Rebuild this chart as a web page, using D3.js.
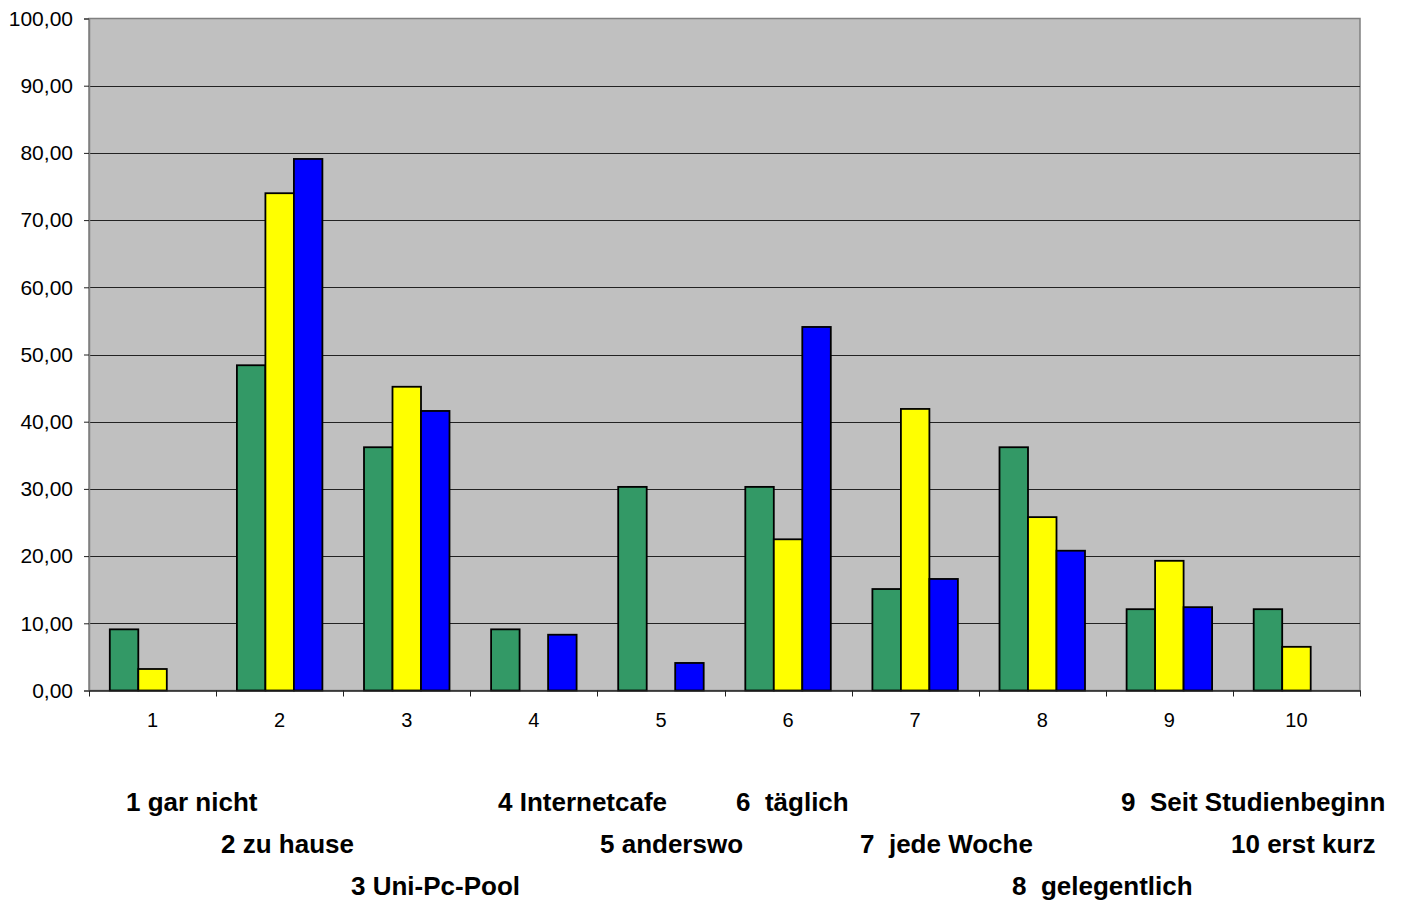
<!DOCTYPE html>
<html>
<head>
<meta charset="utf-8">
<script src="https://cdn.jsdelivr.net/npm/d3@7"></script>
<style>
  body { margin: 0; background: #fff; }
  text { font-family: Arial, "Liberation Sans", sans-serif; }
</style>
</head>
<body>
<svg id="canvas" width="1410" height="903"></svg>
<script>
// categories and the three series (null = no bar)
var categories = ['1', '2', '3', '4', '5', '6', '7', '8', '9', '10'];
var seriesGreen = [9.1, 48.4, 36.2, 9.1, 30.3, 30.3, 15.1, 36.2, 12.1, 12.1];
var seriesYellow = [3.2, 74.0, 45.2, null, null, 22.5, 41.9, 25.8, 19.3, 6.5];
var seriesBlue = [null, 79.1, 41.6, 8.3, 4.1, 54.1, 16.6, 20.8, 12.4, null];
var seriesColors = ['#339966', '#ffff00', '#0000ff'];
var yTicks = [0, 10, 20, 30, 40, 50, 60, 70, 80, 90, 100];

// the text legend under the chart
var legendLabels = ['1 gar nicht', '2 zu hause', '3 Uni-Pc-Pool', '4 Internetcafe', '5 anderswo',
  '6  täglich', '7  jede Woche', '8  gelegentlich', '9  Seit Studienbeginn', '10 erst kurz'];
var legendRow = [0, 1, 2, 0, 1, 0, 1, 2, 0, 1];
var legendX = [126, 221, 351, 498, 600, 736, 860, 1012, 1121, 1231];

var canvas = d3.select('#canvas');
var margin = { left: 89, right: 50, top: 18.5, bottom: 212.5 };
var width = +canvas.attr('width');
var height = +canvas.attr('height');

var xScale = d3.scaleBand()
  .domain(categories)
  .range([margin.left, width - margin.right])
  .padding(0);

var yScale = d3.scaleLinear()
  .domain([0, 100])
  .range([height - margin.bottom, margin.top]);

// bars inside each category
var xInner = d3.scaleBand()
  .domain([0, 1, 2])
  .range([0, xScale.bandwidth()])
  .paddingOuter(0.73)
  .paddingInner(0);

// plot background
canvas.append('rect')
  .attr('x', margin.left)
  .attr('y', margin.top)
  .attr('width', width - margin.left - margin.right)
  .attr('height', yScale(0) - margin.top)
  .style('fill', '#c0c0c0')
  .style('stroke', '#808080')
  .style('stroke-width', 1.5);

// gridlines
canvas.selectAll('.grid')
  .data(yTicks.filter(function(d) { return d > 0 && d < 100; }))
  .enter()
  .append('line')
  .attr('x1', margin.left)
  .attr('x2', width - margin.right)
  .attr('y1', function(d) { return Math.round(yScale(d)) + 0.5; })
  .attr('y2', function(d) { return Math.round(yScale(d)) + 0.5; })
  .style('stroke', '#222')
  .style('stroke-width', 1);

// bars
var allSeries = [seriesGreen, seriesYellow, seriesBlue];
var barData = [];
allSeries.forEach(function(s, si) {
  s.forEach(function(v, ci) {
    if (v !== null) barData.push({ cat: categories[ci], s: si, v: v });
  });
});

canvas.selectAll('.bar')
  .data(barData)
  .enter()
  .append('rect')
  .attr('x', function(d) { return xScale(d.cat) + xInner(d.s); })
  .attr('y', function(d) { return yScale(d.v); })
  .attr('width', xInner.bandwidth())
  .attr('height', function(d) { return yScale(0) - yScale(d.v); })
  .style('fill', function(d) { return seriesColors[d.s]; })
  .style('stroke', '#000')
  .style('stroke-width', 1.8);

// y axis
var yAxis = d3.axisLeft(yScale)
  .tickValues(yTicks)
  .tickSize(5)
  .tickPadding(11)
  .tickFormat(function(d) { return d3.format('.2f')(d).replace('.', ','); });

var gy = canvas.append('g')
  .attr('transform', 'translate(' + margin.left + ',0)')
  .call(yAxis);
gy.select('.domain').style('stroke', '#808080').style('stroke-width', 1.5);
gy.selectAll('.tick line').style('stroke', '#222');
gy.selectAll('text').style('font-size', '21px').attr('fill', '#000');

// x axis, ticks on the category boundaries
var xAxis = d3.axisBottom(xScale).tickSize(0).tickPadding(22);
var gx = canvas.append('g')
  .attr('transform', 'translate(0,' + yScale(0) + ')')
  .call(xAxis);
gx.select('.domain').style('stroke', '#222').style('stroke-width', 1.5);
gx.selectAll('text').style('font-size', '20px').attr('fill', '#000');

var bounds = categories.map(function(c) { return xScale(c); }).concat([xScale.range()[1]]);
gx.selectAll('.bound')
  .data(bounds)
  .enter()
  .append('line')
  .attr('x1', function(d) { return Math.round(d) + 0.5; })
  .attr('x2', function(d) { return Math.round(d) + 0.5; })
  .attr('y1', 0)
  .attr('y2', 6)
  .style('stroke', '#222');

// legend text
var rowY = [811, 853, 895];
canvas.selectAll('.lbl')
  .data(legendLabels)
  .enter()
  .append('text')
  .attr('x', function(d, i) { return legendX[i]; })
  .attr('y', function(d, i) { return rowY[legendRow[i]]; })
  .style('font-size', '26px')
  .style('font-weight', 'bold')
  .style('white-space', 'pre')
  .text(function(d) { return d; });
</script>
</body>
</html>
